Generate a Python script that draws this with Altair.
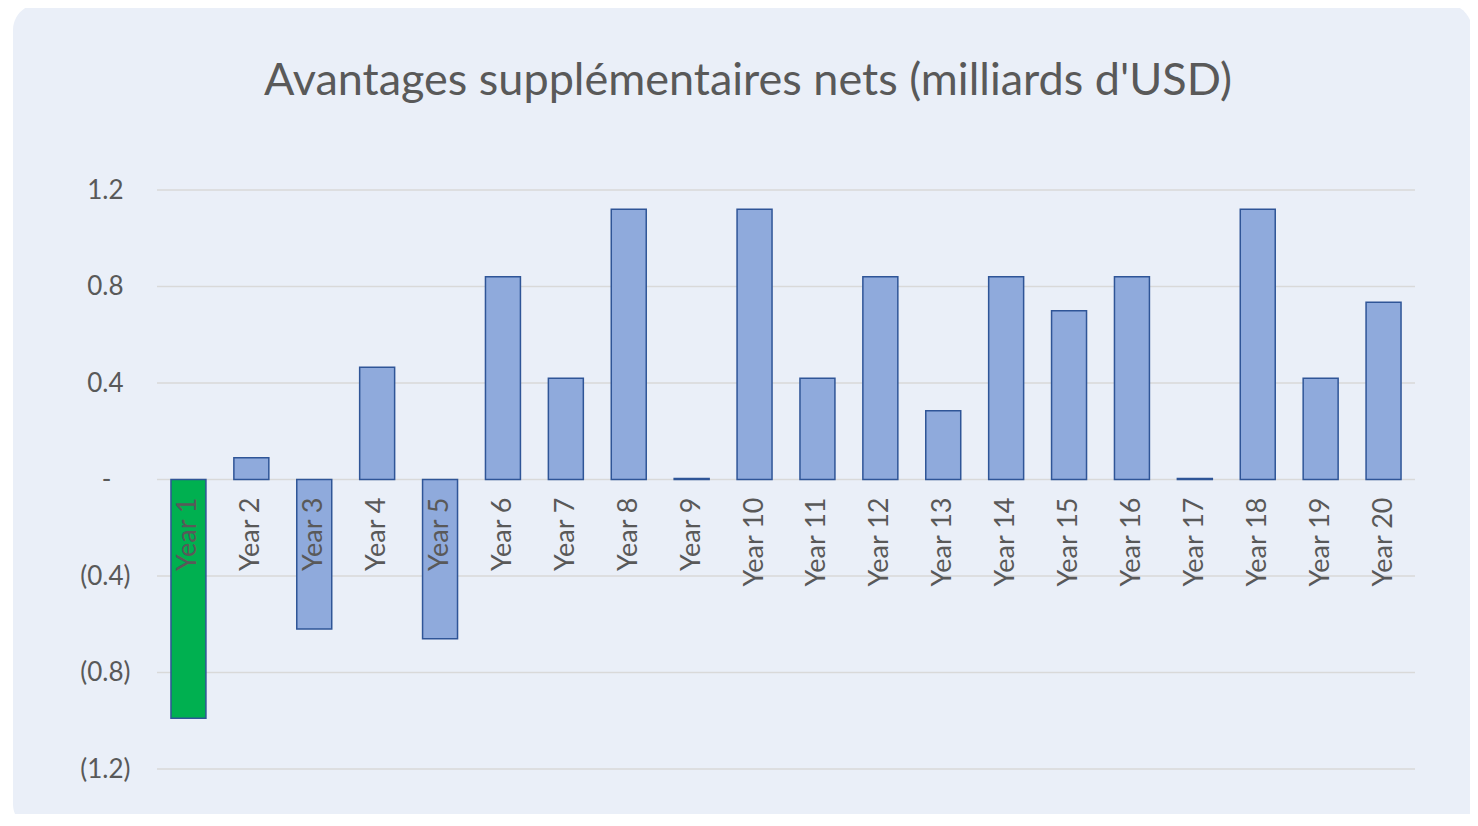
import altair as alt
import pandas as pd

years = ["Year 1", "Year 2", "Year 3", "Year 4", "Year 5", "Year 6", "Year 7",
         "Year 8", "Year 9", "Year 10", "Year 11", "Year 12", "Year 13", "Year 14",
         "Year 15", "Year 16", "Year 17", "Year 18", "Year 19", "Year 20"]
values = [-0.99, 0.09, -0.62, 0.465, -0.66, 0.84, 0.42, 1.12, 0.004, 1.12,
          0.42, 0.84, 0.285, 0.84, 0.70, 0.84, 0.004, 1.12, 0.42, 0.735]
y_ticks = [-1.2, -0.8, -0.4, 0.0, 0.4, 0.8, 1.2]
title_text = ["Avantages supplémentaires nets (milliards d'USD)"]

df = pd.DataFrame({"year": years, "value": values})
grid_df = pd.DataFrame({"tick": y_ticks})
title_df = pd.DataFrame({"t": title_text})

FONT = "Lato"
GRAY = "#595959"
W, H = 1258, 579

xenc = alt.X("year:N", sort=years, axis=None,
             scale=alt.Scale(paddingInner=0.444, paddingOuter=0.222))
yscale = alt.Scale(domain=[-1.2, 1.2], nice=False, zero=True)

bg = alt.Chart(pd.DataFrame({"a": [0]})).mark_rect(
    fill="#EAEFF8", cornerRadius=26
).encode(
    x=alt.value(-144), x2=alt.value(1315), y=alt.value(-186), y2=alt.value(640)
)

title = alt.Chart(title_df).mark_text(
    fontSize=45, color=GRAY, font=FONT, align="center", baseline="alphabetic"
).encode(
    x=alt.value(W / 2 - 38), y=alt.value(-95), text="t:N"
)

grid = alt.Chart(grid_df).mark_rule(color="#D9D9D9", strokeWidth=1.5).encode(
    y=alt.Y("tick:Q", scale=yscale),
    x=alt.value(0), x2=alt.value(W),
)

label_expr = ("abs(datum.value) < 1e-9 ? '-' : "
              "(datum.value < 0 ? '(' + format(-datum.value, '.1f') + ')' : "
              "format(datum.value, '.1f'))")

label_pad = {
    "condition": [
        {"test": "abs(datum.value) < 1e-9", "value": 46},
        {"test": "datum.value < 0", "value": 27},
    ],
    "value": 34,
}

bars = alt.Chart(df).mark_bar(stroke="#2F5597", strokeWidth=1.5).encode(
    x=xenc,
    y=alt.Y("value:Q", scale=yscale,
            axis=alt.Axis(values=y_ticks, labelExpr=label_expr, domain=False,
                          ticks=False, grid=False, labelFontSize=26,
                          labelColor=GRAY, labelFont=FONT,
                          labelPadding=label_pad, title=None, zindex=1)),
    fill=alt.condition(alt.datum.year == "Year 1", alt.value("#00B050"),
                       alt.value("#8FAADC")),
)

labels = alt.Chart(df).mark_text(
    angle=270, align="right", baseline="middle", dx=-18,
    fontSize=27, color=GRAY, font=FONT
).encode(
    x=xenc, y=alt.datum(0), text="year:N"
)

chart = alt.layer(bg, title, grid, bars, labels).properties(
    width=W, height=H,
    autosize=alt.AutoSizeParams(type="none"),
    padding={"left": 149, "top": 182, "right": 55, "bottom": 45},
    background="white",
).configure_view(stroke=None)

chart.save("out.html", embed_options={"renderer": "svg", "actions": False})
